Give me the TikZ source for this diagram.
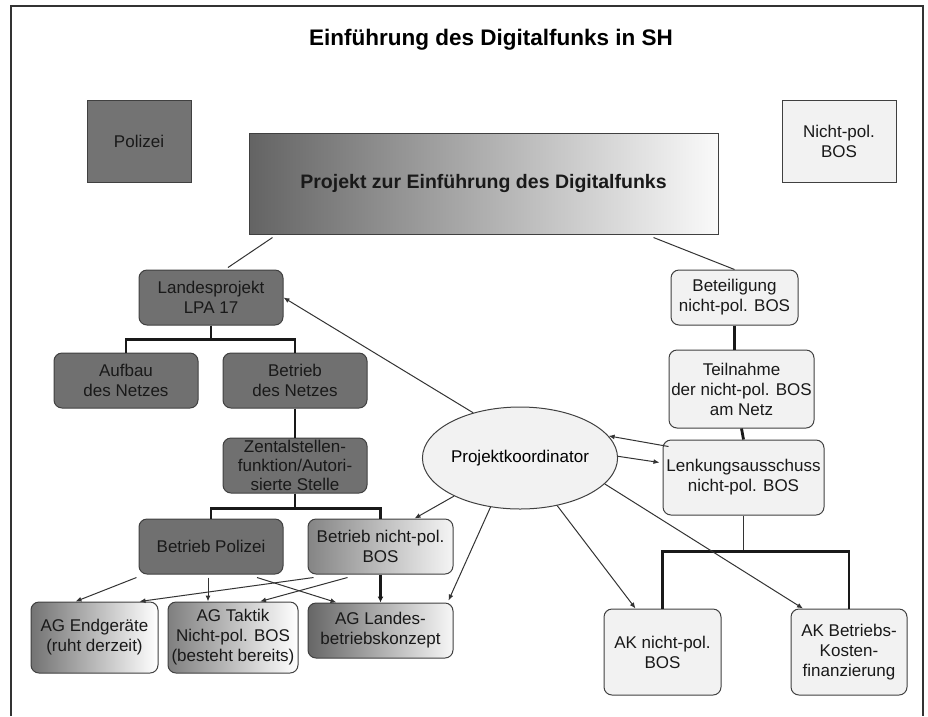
\documentclass[tikz,border=0pt]{standalone}
\usepackage{fontspec}
\setmainfont{Liberation Sans}
\usetikzlibrary{shapes.geometric, arrows.meta, positioning, calc}

\begin{document}
\begin{tikzpicture}[
    x=1pt, y=-1pt,
    font=\fontsize{17}{20}\selectfont,
    box/.style={rectangle, draw=black!75, line width=1pt, rounded corners=8pt, align=center, inner sep=2pt, text=black!90},
    darkbox/.style={box, fill=black!56, minimum width=144pt, minimum height=55pt},
    lightbox/.style={box, fill=black!5},
    shadebox/.style={box, left color=black!55, right color=white},
    sqbox/.style={box, sharp corners},
    koordell/.style={ellipse, draw=black!75, line width=1pt, fill=black!5, minimum width=154pt, minimum height=102pt, inner sep=0pt},
    link/.style={draw=black!80, line width=1pt},
    arr/.style={link, -{Latex[length=6pt, width=5pt]}},
    tree/.style={draw=black!90, line width=2.8pt},
]
    \useasboundingbox (0,0) rectangle (928,716);

    % Frame (open at the bottom)
    \draw[line width=1.8pt, black!80] (11,716) -- (11,6) -- (923,6) -- (923,716);

    % Title
    \node[font=\bfseries\fontsize{22.5}{26}\selectfont] (title) at (491,40) {Einführung des Digitalfunks in SH};

    % Top row
    \node[sqbox, fill=black!55, minimum width=104pt, minimum height=82pt] (polizei) at (139,141) {Polizei};
    \node[sqbox, fill=black!5, minimum width=114pt, minimum height=82pt] (nichtpol) at (839,141) {Nicht-pol.\\BOS};
    \node[sqbox, left color=black!61, right color=black!2, minimum width=469pt, minimum height=101pt,
          font=\bfseries\fontsize{19.5}{23}\selectfont] (projekt) at (483.5,183.5) {Projekt zur Einführung des Digitalfunks};

    % Landesprojekt tree (left)
    \node[darkbox] (lpa) at (211,297.5) {Landesprojekt\\LPA 17};
    \node[darkbox] (betriebnetz) at (295,380.5) {Betrieb\\des Netzes};
    \node[darkbox, left=24pt of betriebnetz] (aufbau) {Aufbau\\des Netzes};
    \node[darkbox, below=29pt of betriebnetz, inner ysep=0pt, font=\fontsize{17}{19}\selectfont] (zentral) {Zentalstellen-\\funktion/Autori-\\sierte Stelle};
    \node[darkbox] (bpol) at (211,546.5) {Betrieb Polizei};
    \node[shadebox, left color=black!48, right color=black!4, minimum width=145pt, minimum height=55pt, right=24pt of bpol] (bnp) {Betrieb nicht-pol.\\BOS};

    % Working groups (bottom left)
    \node[shadebox, minimum width=127pt, minimum height=71pt] (agend) at (94.5,637.5) {AG Endgeräte\\(ruht derzeit)};
    \node[shadebox, left color=black!50, minimum width=130pt, minimum height=71pt] (agtak) at (233,637.5) {AG Taktik\\Nicht-pol. BOS\\(besteht bereits)};
    \node[shadebox, left color=black!60, right color=black!3, minimum width=145pt, minimum height=55pt, below=28pt of bnp] (agland) {AG Landes-\\betriebskonzept};

    % Non-police column (right)
    \node[lightbox, minimum width=127pt, minimum height=55pt] (beteil) at (734.5,297.5) {Beteiligung\\nicht-pol. BOS};
    \node[lightbox, minimum width=145pt, minimum height=78pt] (teiln) at (741.5,389) {Teilnahme\\der nicht-pol. BOS\\am Netz};
    \node[lightbox, minimum width=161pt, minimum height=75pt] (lenk) at (743.5,477.5) {Lenkungsausschuss\\nicht-pol. BOS};
    \node[lightbox, minimum width=117pt, minimum height=86pt] (aknp) at (662.5,652) {AK nicht-pol.\\BOS};
    \node[lightbox, minimum width=116pt, minimum height=86pt] (akbk) at (849,652) {AK Betriebs-\\Kosten-\\finanzierung};

    % Coordinator
    \node[koordell] (koord) at (520,458) {Projektkoordinator};

    % Project to both branches
    \draw[link] ([xshift=24pt, yshift=-3pt]projekt.south west) -- ([xshift=17pt, yshift=2pt]lpa.north);
    \draw[link] ([xshift=-65pt, yshift=-3pt]projekt.south east) -- (beteil.north);

    % Tree lines
    \draw[tree] (lpa.south) -- ++(0,14) -| (aufbau.north);
    \draw[tree] (lpa.south) -- ++(0,14) -| (betriebnetz.north);
    \draw[tree] (betriebnetz.south) -- (zentral.north);
    \draw[tree] (zentral.south) -- ++(0,15) -| (bpol.north);
    \draw[tree] (zentral.south) -- ++(0,15) -| (bnp.north);
    \draw[tree, -{Latex[length=6pt, width=6pt]}] (bnp.south) -- (agland.north);
    \draw[tree] (beteil.south) -- (beteil.south |- teiln.north);
    \draw[tree] (teiln.south) -- (lenk.north);
    \draw[link] (lenk.south) -- ++(0,37);
    \draw[tree] (aknp.north) -- ++(0,-57) -| (akbk.north);

    % Arrows to the working groups
    \draw[arr] ([xshift=-2pt, yshift=-3pt]bpol.south west) -- ([xshift=-19pt]agend.north);
    \draw[arr] ([xshift=-3pt, yshift=-3pt]bpol.south) -- ([xshift=-25pt]agtak.north);
    \draw[arr] ([xshift=46pt, yshift=-3pt]bpol.south) -- ([xshift=-44pt]agland.north);
    \draw[arr] ([xshift=6pt, yshift=-3pt]bnp.south west) -- ([xshift=45pt]agend.north);
    \draw[arr] ([xshift=40pt, yshift=-3pt]bnp.south west) -- ([xshift=27pt]agtak.north);

    % Arrows of the coordinator
    \draw[arr] (koord.136) -- (lpa.east);
    \draw[arr] (koord.-150) -- ([xshift=-39pt]bnp.north east);
    \draw[arr] (koord.-121) -- ([xshift=-5pt, yshift=2pt]agland.north east);
    \draw[arr] ([xshift=6pt, yshift=-7pt]lenk.north west) -- (koord.14);
    \draw[arr] (koord.1) -- ([xshift=-3pt, yshift=15pt]lenk.west);
    \draw[arr] (koord.-52) -- ([xshift=-27pt]aknp.north);
    \draw[arr] (koord.-17) -- ([xshift=-46pt]akbk.north);
\end{tikzpicture}
\end{document}
